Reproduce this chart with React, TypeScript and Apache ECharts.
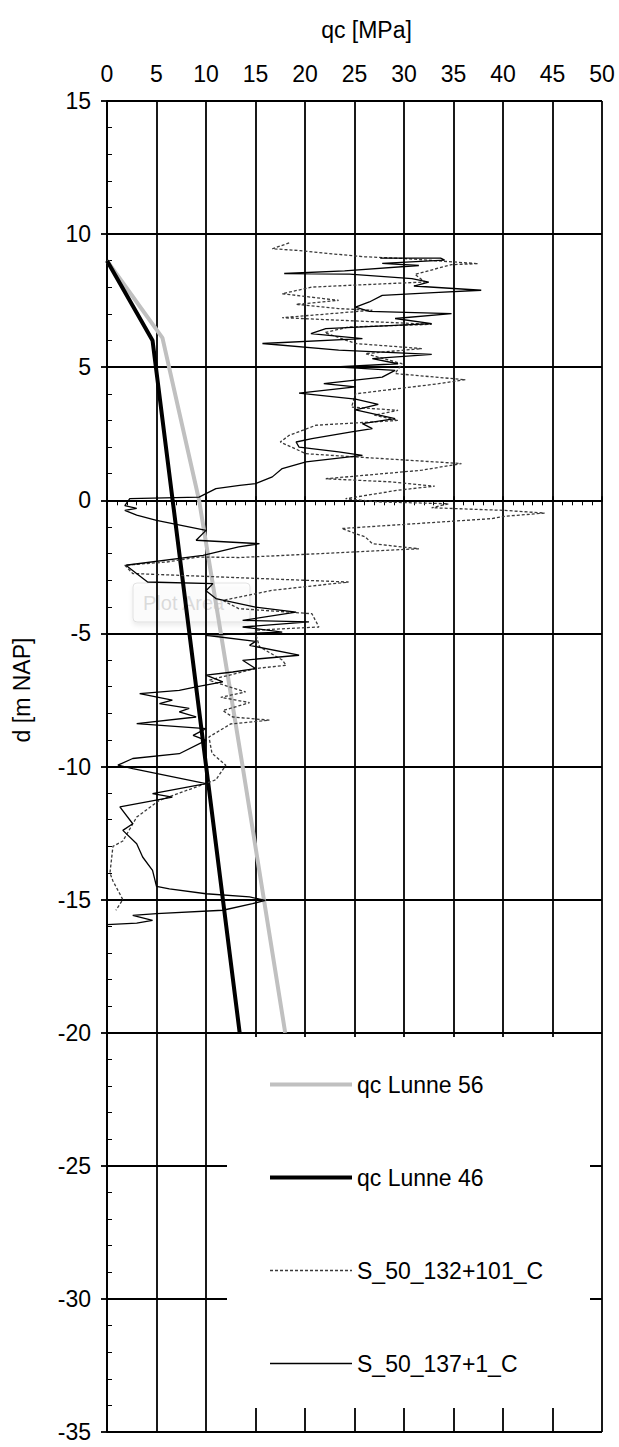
import { useEffect, useRef } from "react";
import * as echarts from "echarts";

// ---- axis setup ----
const qcMin = 0;
const qcMax = 50;
const qcStep = 5;
const depthMin = -35;
const depthMax = 15;
const depthStep = 5;

const seriesNames = ["qc Lunne 56", "qc Lunne 46", "S_50_132+101_C", "S_50_137+1_C"];

// ---- qc Lunne 56 ----
const lunne56Qc = [0, 5.6, 9.3, 13.7, 18.0];
const lunne56Depth = [9, 6.1, 0, -10, -20];

// ---- qc Lunne 46 ----
const lunne46Qc = [0, 4.6, 13.4];
const lunne46Depth = [9, 6.0, -20];

// ---- S_50_132+101_C (dashed) ----
const s132Qc = [
  18.4, 16.7, 19.5, 22.4, 26.0, 30.1, 37.5, 34.8, 31.1, 32.1, 26.0, 20.7, 17.7, 23.4, 19.1, 23.4,
  26.8, 17.7, 32.8, 24.4, 22.0, 25.1, 31.8, 26.1, 29.8, 29.1, 36.2, 33.5, 25.1, 24.7, 29.4, 27.0,
  29.4, 21.1, 18.4, 17.5, 20.1, 25.1, 35.8, 31.8, 22.1, 28.8, 33.1, 29.4, 24.1, 27.4, 34.5, 32.8,
  40.2, 44.2, 40.2, 38.8, 23.7, 26.1, 26.8, 31.5, 13.4, 9.3, 6.0, 1.8, 2.6, 24.4, 16.7, 11.7,
  13.3, 20.7, 21.4, 15.0, 15.0, 15.4, 17.7, 18.1, 15.0, 10.3, 12.3, 14.0, 11.5, 14.4, 11.7, 12.7,
  16.4, 12.5, 10.3, 10.6, 12.0, 11.0, 5.3, 3.0, 1.6, 0.6, 0.3, 0.6, 1.6, 0.9,
];
const s132Depth = [
  9.67, 9.45, 9.38, 9.27, 9.15, 9.08, 8.89, 8.85, 8.49, 8.2, 8.1, 8.01, 7.76, 7.51, 7.36, 7.2,
  7.14, 6.86, 6.61, 6.51, 6.3, 5.89, 5.7, 5.51, 5.13, 4.76, 4.53, 4.38, 4.0, 3.5, 3.38, 3.2,
  3.0, 2.82, 2.44, 2.19, 1.75, 1.63, 1.38, 1.13, 0.81, 0.69, 0.53, 0.38, 0.06, -0.06, -0.13, -0.28,
  -0.38, -0.48, -0.6, -0.69, -1.06, -1.38, -1.63, -1.82, -2.15, -2.13, -2.32, -2.44, -2.75, -3.07, -3.38, -3.76,
  -4.07, -4.26, -4.76, -4.88, -5.0, -5.5, -6.0, -6.2, -6.32, -6.76, -7.0, -7.2, -7.4, -7.6, -7.9, -8.14,
  -8.26, -8.4, -8.89, -9.5, -9.95, -10.5, -11.27, -11.9, -12.8, -13.0, -14.0, -14.3, -15.0, -15.4,
];

// ---- S_50_137+1_C (solid) ----
const s137Qc = [
  27.6, 33.7, 34.1, 27.8, 31.5, 24.0, 17.9, 24.5, 30.8, 32.5, 31.0, 37.8, 33.0, 27.8, 26.5, 25.1,
  26.5, 34.8, 29.1, 32.8, 22.1, 20.6, 25.8, 15.7, 23.4, 32.8, 26.8, 29.4, 23.1, 29.1, 27.8, 21.9,
  25.1, 19.4, 25.1, 27.4, 25.1, 29.1, 25.8, 26.8, 24.7, 20.7, 19.1, 19.4, 23.4, 25.8, 20.1, 17.7,
  16.7, 15.0, 13.4, 11.0, 9.3, 2.3, 1.8, 3.0, 1.8, 3.0, 5.0, 10.0, 9.0, 15.4, 13.3, 9.7,
  1.9, 4.1, 10.7, 10.0, 11.0, 15.0, 19.1, 13.7, 20.4, 13.7, 17.7, 10.0, 15.0, 14.4, 19.4, 13.7,
  15.0, 12.7, 10.0, 11.7, 9.0, 7.3, 3.3, 6.6, 5.3, 8.3, 7.3, 9.0, 3.0, 10.0, 8.7, 10.0,
  7.3, 2.6, 1.1, 2.6, 10.0, 4.6, 6.6, 1.3, 2.6, 1.6, 3.0, 3.6, 4.6, 5.0, 6.3, 10.0,
  14.4, 16.0, 14.7, 11.7, 5.0, 2.6, 4.6, 3.0, 0,
];
const s137Depth = [
  9.1, 9.1, 9.02, 8.9, 8.82, 8.62, 8.52, 8.5, 8.33, 8.2, 8.05, 7.89, 7.8, 7.7, 7.45, 7.26,
  7.1, 7.01, 6.83, 6.64, 6.45, 6.26, 6.07, 5.89, 5.64, 5.48, 5.32, 5.13, 5.01, 4.88, 4.63, 4.38,
  4.26, 4.03, 3.8, 3.6, 3.4, 3.07, 2.88, 2.69, 2.57, 2.32, 2.19, 2.0, 1.82, 1.69, 1.44, 1.19,
  0.88, 0.63, 0.56, 0.44, 0.12, 0.06, -0.2, -0.3, -0.38, -0.56, -0.75, -1.13, -1.5, -1.63, -1.75, -2.07,
  -2.44, -3.07, -3.13, -3.4, -3.69, -4.01, -4.2, -4.51, -4.57, -4.76, -4.95, -5.07, -5.3, -5.45, -5.82, -6.01,
  -6.32, -6.45, -6.57, -6.82, -7.01, -7.14, -7.26, -7.51, -7.64, -7.82, -7.95, -8.14, -8.39, -8.58, -8.83, -9.02,
  -9.52, -9.7, -9.95, -10.08, -10.64, -11.02, -11.15, -11.52, -12.15, -12.4, -12.9, -13.4, -13.9, -14.5, -14.6, -14.78,
  -14.9, -15.03, -15.15, -15.4, -15.53, -15.59, -15.78, -15.88, -15.94,
];

const FONT = "'Liberation Sans', Arial, sans-serif";
const FS = 23;
const zip = (a: number[], b: number[]) => a.map((v, i) => [v, b[i]]);

export default function App() {
  const ref = useRef<HTMLDivElement>(null);

  useEffect(() => {
    document.body.style.margin = "0";
    const chart = echarts.init(ref.current!, null, { renderer: "svg" });
    const axisColor = "#000";
    const gridW = 1.8;

    const option: any = {
      animation: false,
      backgroundColor: "#fff",
      grid: { left: 107, right: 17, top: 101, bottom: 15, outerBoundsMode: "none" },
      xAxis: [
        {
          type: "value",
          position: "top",
          min: qcMin,
          max: qcMax,
          interval: qcStep,
          name: "qc [MPa]",
          nameLocation: "middle",
          nameGap: 60,
          nameTextStyle: { fontSize: FS, color: "#000", fontFamily: FONT, padding: [0, 0, 0, 24] },
          axisLine: { show: true, lineStyle: { color: axisColor, width: gridW } },
          axisTick: { show: true, inside: false, length: 4, lineStyle: { color: axisColor, width: gridW } },
          axisLabel: { margin: 16, fontSize: FS, color: "#000", fontFamily: FONT },
          splitLine: { show: true, lineStyle: { color: axisColor, width: gridW } },
        },
        {
          type: "value",
          position: "top",
          min: qcMin,
          max: qcMax,
          interval: qcStep,
          axisLine: { show: false },
          axisTick: { show: false, inside: true },
          minorTick: { show: true, splitNumber: 5, length: 5, lineStyle: { color: axisColor, width: 1 } },
          axisLabel: { show: false },
          splitLine: { show: false },
        },
      ],
      yAxis: [
        {
          type: "value",
          position: "left",
          min: depthMin,
          max: depthMax,
          interval: depthStep,
          axisLine: { show: true, lineStyle: { color: axisColor, width: gridW } },
          axisTick: { show: true, inside: false, length: 6, lineStyle: { color: axisColor, width: gridW } },
          axisLabel: { margin: 16, fontSize: FS, color: "#000", fontFamily: FONT },
          splitLine: { show: true, lineStyle: { color: axisColor, width: gridW } },
        },
        {
          type: "value",
          position: "left",
          min: depthMin,
          max: depthMax,
          interval: depthStep,
          axisLine: { show: false },
          axisTick: { show: false, inside: true },
          minorTick: { show: true, splitNumber: 5, length: 5, lineStyle: { color: axisColor, width: 1 } },
          axisLabel: { show: false },
          splitLine: { show: false },
        },
      ],
      legend: {
        orient: "vertical",
        left: 263,
        top: 1068,
        itemWidth: 82,
        itemHeight: 14,
        itemGap: 70,
        selectedMode: false,
        z: 10,
        data: seriesNames,
        itemStyle: { opacity: 0 },
        lineStyle: { width: "inherit" },
        textStyle: { fontSize: FS, color: "#000", fontFamily: FONT },
      },
      graphic: [
        {
          type: "rect",
          z: 5,
          silent: true,
          shape: { x: 227, y: 1037, width: 363, height: 371 },
          style: { fill: "#fff" },
        },
        {
          type: "group",
          z: 6,
          silent: true,
          children: [
            {
              type: "rect",
              shape: { x: 133, y: 583, width: 117, height: 39, r: 4 },
              style: {
                fill: "rgba(255,255,255,0.45)",
                stroke: "rgba(200,200,200,0.5)",
                lineWidth: 1,
                shadowBlur: 4,
                shadowOffsetY: 3,
                shadowColor: "rgba(0,0,0,0.15)",
              },
            },
            {
              type: "text",
              x: 143,
              y: 603,
              style: {
                text: "Plot Area",
                fontSize: 20,
                fontFamily: FONT,
                fill: "rgba(190,190,190,0.55)",
                verticalAlign: "middle",
              },
            },
          ],
        },
        {
          type: "text",
          x: 22,
          y: 690,
          rotation: Math.PI / 2,
          silent: true,
          style: {
            text: "d [m NAP]",
            fontSize: FS,
            fontFamily: FONT,
            fill: "#000",
            align: "center",
            verticalAlign: "middle",
          },
        },
      ],
      series: [
        {
          name: seriesNames[0],
          type: "line",
          symbol: "none",
          silent: true,
          z: 2,
          data: zip(lunne56Qc, lunne56Depth),
          itemStyle: { color: "#c0c0c0" },
          lineStyle: { color: "#c0c0c0", width: 4 },
        },
        {
          name: seriesNames[1],
          type: "line",
          symbol: "none",
          silent: true,
          z: 2,
          data: zip(lunne46Qc, lunne46Depth),
          itemStyle: { color: "#000" },
          lineStyle: { color: "#000", width: 4 },
        },
        {
          name: seriesNames[2],
          type: "line",
          symbol: "none",
          silent: true,
          z: 3,
          data: zip(s132Qc, s132Depth),
          itemStyle: { color: "#3a3a3a" },
          lineStyle: { color: "#3a3a3a", width: 1.3, type: [3, 2] },
        },
        {
          name: seriesNames[3],
          type: "line",
          symbol: "none",
          silent: true,
          z: 3,
          data: zip(s137Qc, s137Depth),
          itemStyle: { color: "#000" },
          lineStyle: { color: "#000", width: 1.3 },
        },
      ],
    };

    chart.setOption(option);
    return () => chart.dispose();
  }, []);

  return (
    <div
      ref={ref}
      style={{ position: "absolute", left: 0, top: 0, width: 619, height: 1447, background: "#fff" }}
    />
  );
}
